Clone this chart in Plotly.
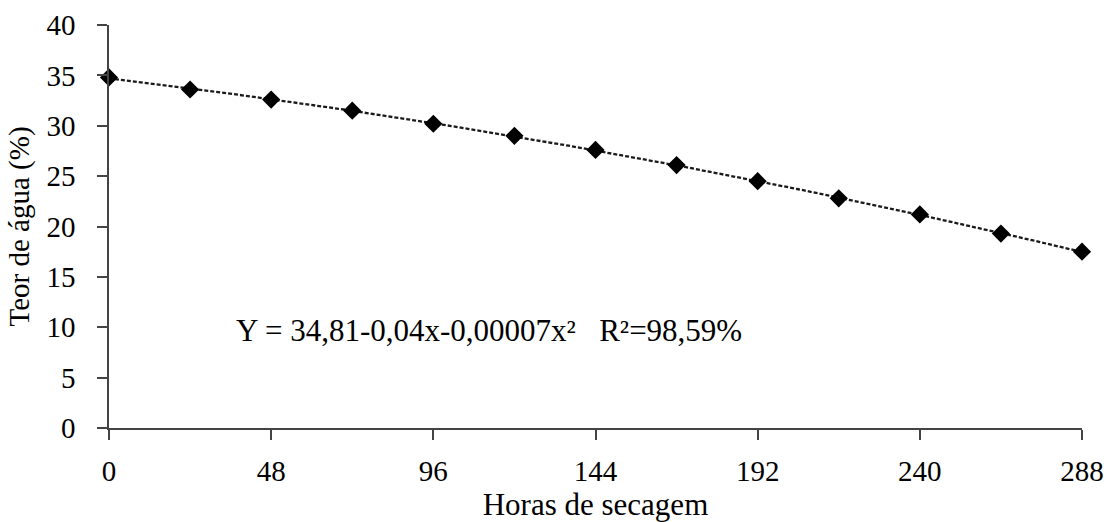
import numpy as np
import plotly.graph_objects as go

horas = [0, 24, 48, 72, 96, 120, 144, 168, 192, 216, 240, 264, 288]
teor_agua = [34.8, 33.6, 32.6, 31.5, 30.2, 29.0, 27.6, 26.1, 24.5, 22.8, 21.2, 19.3, 17.5]
x_ticks = [0, 48, 96, 144, 192, 240, 288]
y_ticks = [0, 5, 10, 15, 20, 25, 30, 35, 40]
equacao = "Y = 34,81-0,04x-0,00007x²   R²=98,59%"

# quadratic trend fitted from the data
coef = np.polyfit(horas, teor_agua, 2)
x_fit = np.linspace(min(horas), max(horas), 200)
y_fit = np.polyval(coef, x_fit)

FONT = "Liberation Serif"

fig = go.Figure()
fig.add_trace(go.Scatter(
    x=x_fit, y=y_fit, mode="lines",
    line=dict(color="#1a1a1a", width=2.3, dash="4px,2px"),
    hoverinfo="skip", showlegend=False, cliponaxis=False,
))
fig.add_trace(go.Scatter(
    x=horas, y=teor_agua, mode="markers",
    marker=dict(symbol="diamond", size=14, color="black"),
    showlegend=False, cliponaxis=False,
))

fig.add_annotation(
    x=37, y=9.7, xref="x", yref="y", xanchor="left", yanchor="middle",
    text=equacao, showarrow=False,
    font=dict(family=FONT, size=31, color="black"),
)

fig.update_layout(
    width=1109, height=522,
    margin=dict(l=109, r=27, t=25, b=94),
    paper_bgcolor="white", plot_bgcolor="white",
    font=dict(family=FONT, size=28, color="black"),
)
fig.update_xaxes(
    range=[0, 288], tickmode="array", tickvals=x_ticks,
    ticktext=[str(v) for v in x_ticks],
    showgrid=False, zeroline=False, automargin=False,
    showline=True, linecolor="#444444", linewidth=1.5,
    ticks="outside", ticklen=10, tickwidth=1.5, tickcolor="#444444",
    ticklabelstandoff=6,
    tickfont=dict(family=FONT, size=29, color="black"),
    title=dict(text="Horas de secagem", font=dict(family=FONT, size=31, color="black"), standoff=13),
)
fig.update_yaxes(
    range=[0, 40], tickmode="array", tickvals=y_ticks,
    ticktext=[str(v) for v in y_ticks],
    showgrid=False, zeroline=False, automargin=False,
    showline=True, linecolor="#444444", linewidth=1.5,
    ticks="outside", ticklen=10, tickwidth=1.5, tickcolor="#444444",
    ticklabelstandoff=16,
    tickfont=dict(family=FONT, size=29, color="black"),
    title=dict(text="Teor de água (%)", font=dict(family=FONT, size=29, color="black"), standoff=8),
)

fig.write_html("out.html")
